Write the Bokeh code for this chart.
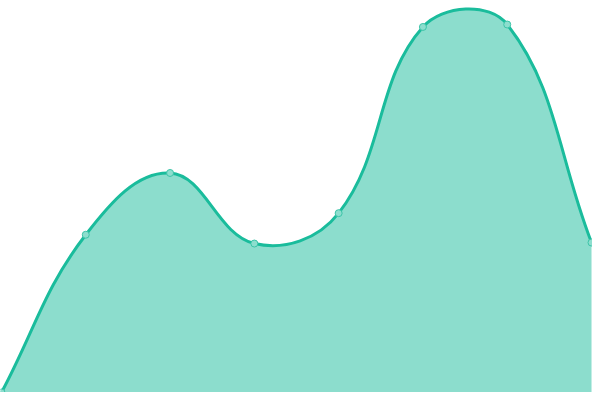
import math
import numpy as np
from bokeh.plotting import figure
from bokeh.models import Range1d, ColumnDataSource
from bokeh.embed import file_html
from bokeh.resources import INLINE

# ---- data ----
labels = ["P1", "P2", "P3", "P4", "P5", "P6", "P7", "P8"]
values = [0, 161, 224, 152, 183, 373, 375.5, 153]

LINE = "#1abc9c"
FILL = "#1abc9c"
TENSION = 0.4

n = len(values)
xs = list(range(n))
SX = 598.0 / (n - 1)   # px per category step (for spline shape)

# ---- Chart.js-like spline control points, computed in screen space ----
pts = [(x * SX, v) for x, v in zip(xs, values)]
prev_cp, next_cp = [], []
for i in range(n):
    p0 = pts[i - 1] if i > 0 else pts[i]
    p1 = pts[i]
    p2 = pts[i + 1] if i < n - 1 else pts[i]
    d01 = math.hypot(p1[0] - p0[0], p1[1] - p0[1])
    d12 = math.hypot(p2[0] - p1[0], p2[1] - p1[1])
    tot = d01 + d12
    s01 = d01 / tot if tot else 0
    s12 = d12 / tot if tot else 0
    fa, fb = TENSION * s01, TENSION * s12
    cpa = (p1[0] - fa * (p2[0] - p0[0]), p1[1] - fa * (p2[1] - p0[1]))
    cpb = (p1[0] + fb * (p2[0] - p0[0]), p1[1] + fb * (p2[1] - p0[1]))
    clamp = lambda c: (c[0], min(max(c[1], 0), 400))
    prev_cp.append(clamp(cpa))
    next_cp.append(clamp(cpb))

seg = dict(x0=[], y0=[], x1=[], y1=[], cx0=[], cy0=[], cx1=[], cy1=[])
fx, fy = [], []
t = np.linspace(0, 1, 60)
for i in range(n - 1):
    a, b = pts[i], pts[i + 1]
    c0, c1 = next_cp[i], prev_cp[i + 1]
    seg["x0"].append(a[0] / SX); seg["y0"].append(a[1])
    seg["x1"].append(b[0] / SX); seg["y1"].append(b[1])
    seg["cx0"].append(c0[0] / SX); seg["cy0"].append(c0[1])
    seg["cx1"].append(c1[0] / SX); seg["cy1"].append(c1[1])
    bx = (1 - t) ** 3 * a[0] + 3 * (1 - t) ** 2 * t * c0[0] + 3 * (1 - t) * t ** 2 * c1[0] + t ** 3 * b[0]
    by = (1 - t) ** 3 * a[1] + 3 * (1 - t) ** 2 * t * c0[1] + 3 * (1 - t) * t ** 2 * c1[1] + t ** 3 * b[1]
    if i > 0:
        bx, by = bx[1:], by[1:]
    fx.extend((bx / SX).tolist())
    fy.extend(by.tolist())

# ---- figure: frame covers the whole reference area ----
x_start = -1 / SX
x_end = (n - 1) + 1 / SX
p = figure(width=592, height=392, output_backend="svg", toolbar_location=None,
           x_range=Range1d(x_start, x_end), y_range=Range1d(0, 400),
           x_axis_location=None, y_axis_location=None,
           min_border=0, outline_line_color=None,
           background_fill_color="white", border_fill_color="white")
p.grid.visible = False

p.varea(x=fx, y1=[0] * len(fy), y2=fy, fill_color=FILL, fill_alpha=0.5)
p.bezier(source=ColumnDataSource(seg), x0="x0", y0="y0", x1="x1", y1="y1",
         cx0="cx0", cy0="cy0", cx1="cx1", cy1="cy1",
         line_color=LINE, line_width=3)
p.scatter(x=xs, y=values, size=7, marker="circle",
          fill_color="#8ddece", line_color="#3cc4a8", line_width=1)

open("out.html", "w").write(file_html(p, INLINE))
